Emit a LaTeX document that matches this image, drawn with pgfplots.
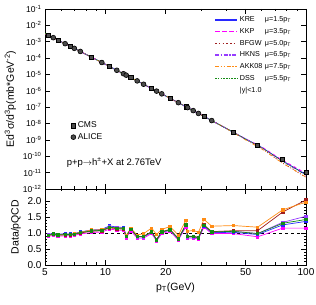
\documentclass[border=0pt]{standalone}
\usepackage{fontspec}
\setmainfont{Liberation Sans}
\usepackage{pgfplots}
\usepackage{pgfplotstable}
\pgfplotsset{compat=1.18}

\definecolor{cKRE}{RGB}{40,40,255}
\definecolor{cKKP}{RGB}{255,0,255}
\definecolor{cBFGW}{RGB}{160,30,30}
\definecolor{cHKNS}{RGB}{150,60,255}
\definecolor{cAKK}{RGB}{255,140,20}
\definecolor{cDSS}{RGB}{20,140,20}

% theory curves (top panel)
\pgfplotstableread{
x     kre      kkp      bfgw     hkns     akk      dss
5     3.20e-3  3.20e-3  3.20e-3  3.20e-3  3.20e-3  3.20e-3
7     3.94e-4  3.94e-4  3.94e-4  3.94e-4  3.94e-4  3.94e-4
10    4.15e-5  4.15e-5  4.15e-5  4.15e-5  4.15e-5  4.15e-5
15    3.11e-6  3.11e-6  3.11e-6  3.11e-6  3.11e-6  3.11e-6
20    4.84e-7  4.84e-7  4.84e-7  4.84e-7  4.84e-7  4.84e-7
30    3.41e-8  3.41e-8  3.41e-8  3.41e-8  3.41e-8  3.41e-8
40    5.08e-9  5.08e-9  5.08e-9  5.08e-9  5.08e-9  5.08e-9
50    1.14e-9  1.14e-9  1.10e-9  1.14e-9  1.00e-9  1.12e-9
60    3.55e-10 3.83e-10 3.15e-10 3.44e-10 2.86e-10 3.44e-10
76.5  5.18e-11 5.63e-11 3.92e-11 4.86e-11 3.76e-11 4.98e-11
100   7.72e-12 9.13e-12 5.17e-12 6.91e-12 5.36e-12 7.39e-12
}\theory

\pgfplotstableread{
x     y
5.2   2.51e-3
5.8   1.28e-3
6.7   5.18e-4
8.5   1.16e-4
10.5  3.04e-5
13.4  6.41e-6
17.0  1.39e-6
21.0  3.52e-7
25.2  1.07e-7
31.0  2.75e-8
43.4  2.95e-9
57.4  4.54e-10
76.5  6.47e-11
100   1.05e-11
}\cms

\pgfplotstableread{
x     y
5.5   1.77e-3
6.3   7.62e-4
7.0   3.94e-4
7.5   2.55e-4
9.6   5.37e-5
11.4  1.80e-5
12.3  1.11e-5
12.7  9.04e-6
14.4  4.04e-6
15.5  2.52e-6
18.0  9.58e-7
19.1  6.53e-7
23.1  1.89e-7
25.7  9.42e-8
27.4  6.18e-8
29.1  4.16e-8
33.9  1.52e-8
}\alice

\pgfplotstableread{
x     dss   kre   kkp   bfgw  hkns  akk
5.2   0.93  0.95  0.89  0.92  0.94  0.92
5.5   0.97  0.99  0.93  0.96  0.98  0.97
5.8   0.94  0.96  0.90  0.93  0.95  0.94
6.3   0.95  0.97  0.91  0.94  0.96  0.95
6.7   0.95  0.97  0.91  0.94  0.96  0.96
7.0   0.96  0.98  0.92  0.95  0.97  0.97
7.5   1.01  1.03  0.97  1.00  1.02  1.02
8.5   1.06  1.09  1.01  1.05  1.07  1.09
9.6   1.08  1.11  1.03  1.07  1.09  1.10
10.5  1.18  1.22  1.12  1.16  1.19  1.17
11.4  1.15  1.18  1.09  1.13  1.16  1.15
12.3  1.14  1.17  1.08  1.12  1.15  1.14
12.7  0.90  0.92  0.85  0.89  0.91  0.92
13.4  1.12  1.13  1.07  1.12  1.11  1.15
14.4  0.89  0.89  0.84  0.89  0.88  0.93
15.5  0.89  0.88  0.84  0.89  0.88  0.98
17.0  1.03  1.02  0.98  1.04  1.02  1.15
18.0  0.79  0.78  0.75  0.80  0.78  0.95
19.1  1.03  1.02  0.98  1.04  1.02  1.11
21.0  1.10  1.09  1.05  1.11  1.09  1.20
23.1  0.82  0.81  0.78  0.83  0.81  0.93
25.2  1.25  1.23  1.19  1.26  1.24  1.40
25.7  0.89  0.88  0.84  0.90  0.88  1.05
27.4  0.89  0.88  0.84  0.90  0.88  1.08
29.1  0.85  0.84  0.81  0.86  0.84  1.02
31.0  1.24  1.22  1.18  1.25  1.23  1.42
33.9  1.03  1.01  0.98  1.04  1.02  1.21
43.4  1.05  1.02  0.98  1.07  1.05  1.23
57.4  0.98  0.95  0.88  1.07  0.98  1.18
76.5  1.30  1.25  1.15  1.65  1.33  1.72
100   1.42  1.36  1.15  2.03  1.52  1.96
}\ratio

\begin{document}
\begin{tikzpicture}
% lower panel
\begin{axis}[scale only axis, width=261pt, height=76pt,
  at={(0pt,0pt)}, anchor=south west,
  xmode=log, log basis x=10, xmin=5, xmax=100,
  xtick={5,10,20,50,100}, minor xtick={6,7,8,9,30,40,60,70,80,90},
  xticklabels={5,10,20,50,100},
  tick align=inside, major tick length=5pt, minor tick length=2.5pt,
  tick style={black, line width=0.6pt},
  axis line style={line width=0.9pt},
  xtick pos=both, ytick pos=both,
  ymin=0, ymax=2.37, ytick={0,0.5,1,1.5,2}, yticklabels={0.0,0.5,1.0,1.5,2.0},
  minor y tick num=4,
  ticklabel style={font=\fontsize{10}{11}\selectfont},
  xlabel={p\textsubscript{T}(GeV)}, ylabel={Data/pQCD},
  label style={font=\fontsize{10.5}{12}\selectfont},
]
\addplot[black, dashed, line width=0.6pt] coordinates {(5,1) (100,1)};
\addplot[color=cKKP, line width=0.7pt, mark=square*, mark size=1.2pt, mark options={fill=cKKP}] table[x=x, y=kkp] {\ratio};
\addplot[color=cKRE, line width=0.7pt, mark=square*, mark size=1.2pt, mark options={fill=cKRE}] table[x=x, y=kre] {\ratio};
\addplot[color=cHKNS, line width=0.7pt, mark=square*, mark size=1.2pt, mark options={fill=cHKNS}] table[x=x, y=hkns] {\ratio};
\addplot[color=cBFGW, line width=0.7pt, mark=square*, mark size=1.2pt, mark options={fill=cBFGW}] table[x=x, y=bfgw] {\ratio};
\addplot[color=cAKK, line width=0.7pt, mark=square*, mark size=1.2pt, mark options={fill=cAKK}] table[x=x, y=akk] {\ratio};
\addplot[color=cDSS, line width=0.7pt, mark=square*, mark size=1.2pt, mark options={fill=cDSS}] table[x=x, y=dss] {\ratio};
\end{axis}

% upper panel: theory
\begin{axis}[scale only axis, width=261pt, height=180pt,
  at={(0pt,76pt)}, anchor=south west,
  xmode=log, log basis x=10, xmin=5, xmax=100,
  xtick={5,10,20,50,100}, minor xtick={6,7,8,9,30,40,60,70,80,90},
  xticklabels={},
  tick align=inside, major tick length=5pt, minor tick length=2.5pt,
  tick style={black, line width=0.6pt},
  axis line style={line width=0.9pt},
  xtick pos=both, ytick pos=both,
  ymode=log, log basis y=10, ymin=1e-12, ymax=1e-1,
  ytickten={-12,...,-1},
  yticklabel={\pgfmathparse{int(round(\tick))}10\textsuperscript{\pgfmathresult}},
  yticklabel style={font=\fontsize{8.5}{10}\selectfont},
  ylabel={Ed\textsuperscript{3}σ/d\textsuperscript{3}p(mb*GeV\textsuperscript{-2})},
  label style={font=\fontsize{10.5}{12}\selectfont},
  legend style={draw=none, fill=none, at={(0.645,0.975)}, anchor=north west,
    font=\fontsize{7.2}{8.5}\selectfont, row sep=1.2pt, inner sep=1pt},
  legend cell align=left,
]
\addplot[color=cKRE, solid, line width=0.8pt, forget plot] table[x=x, y=kre] {\theory};
\addplot[color=cKKP, dashed, line width=0.8pt, forget plot] table[x=x, y=kkp] {\theory};
\addplot[color=cBFGW, dotted, line width=0.8pt, forget plot] table[x=x, y=bfgw] {\theory};
\addplot[color=cHKNS, dash dot, line width=0.8pt, forget plot] table[x=x, y=hkns] {\theory};
\addplot[color=cAKK, dash dot dot, line width=0.8pt, forget plot] table[x=x, y=akk] {\theory};
\addplot[color=cDSS, densely dotted, line width=0.8pt, forget plot] table[x=x, y=dss] {\theory};
\addlegendimage{legend image code/.code={\draw[draw=cKRE, solid, line width=1.4pt] (0pt,0pt) -- (22pt,0pt);}}
\addlegendentry{\makebox[25pt][l]{KRE}μ=1.5p\textsubscript{T}}
\addlegendimage{legend image code/.code={\draw[draw=cKKP, dash pattern=on 4.5pt off 2.5pt, line width=1.4pt] (0pt,0pt) -- (22pt,0pt);}}
\addlegendentry{\makebox[25pt][l]{KKP}μ=3.5p\textsubscript{T}}
\addlegendimage{legend image code/.code={\draw[draw=cBFGW, dash pattern=on 1.5pt off 2.2pt, line width=1.4pt] (0pt,0pt) -- (22pt,0pt);}}
\addlegendentry{\makebox[25pt][l]{BFGW}μ=5.0p\textsubscript{T}}
\addlegendimage{legend image code/.code={\draw[draw=cHKNS, dash pattern=on 4pt off 1.5pt on 1.5pt off 1.5pt, line width=1.4pt] (0pt,0pt) -- (22pt,0pt);}}
\addlegendentry{\makebox[25pt][l]{HKNS}μ=6.5p\textsubscript{T}}
\addlegendimage{legend image code/.code={\draw[draw=cAKK, dash pattern=on 4pt off 1.5pt on 1.5pt off 1.5pt on 1.5pt off 1.5pt, line width=1.4pt] (0pt,0pt) -- (22pt,0pt);}}
\addlegendentry{\makebox[25pt][l]{AKK08}μ=7.5p\textsubscript{T}}
\addlegendimage{legend image code/.code={\draw[draw=cDSS, dash pattern=on 1.5pt off 1.2pt, line width=1.4pt] (0pt,0pt) -- (22pt,0pt);}}
\addlegendentry{\makebox[25pt][l]{DSS}μ=5.5p\textsubscript{T}}
\addlegendimage{empty legend}
\addlegendentry{|y|<1.0}
\node[anchor=west, font=\fontsize{9.5}{11}\selectfont] at (rel axis cs:0.07,0.147)
  {p+p$\rightarrow$h\textsuperscript{±}+X at 2.76TeV};
\end{axis}

% upper panel: data
\begin{axis}[scale only axis, width=261pt, height=180pt,
  at={(0pt,76pt)}, anchor=south west,
  xmode=log, log basis x=10, xmin=5, xmax=100,
  ymode=log, log basis y=10, ymin=1e-12, ymax=1e-1, hide axis,
  legend style={draw=none, fill=none, at={(0.095,0.39)}, anchor=north west,
    font=\fontsize{8.5}{10}\selectfont, row sep=0pt, inner sep=1pt},
  legend cell align=left,
]
\addplot[only marks, mark=square*, mark size=2.1pt, mark options={draw=black, fill=black!70, line width=0.6pt}] table[x=x, y=y] {\cms};
\addlegendentry{CMS}
\addplot[only marks, mark=*, mark size=2.4pt, mark options={draw=black, fill=black!70, line width=0.6pt}] table[x=x, y=y] {\alice};
\addlegendentry{ALICE}
\end{axis}

\pgfresetboundingbox
\path (-45pt,-40pt) rectangle (271pt,265pt);
\end{tikzpicture}
\end{document}
